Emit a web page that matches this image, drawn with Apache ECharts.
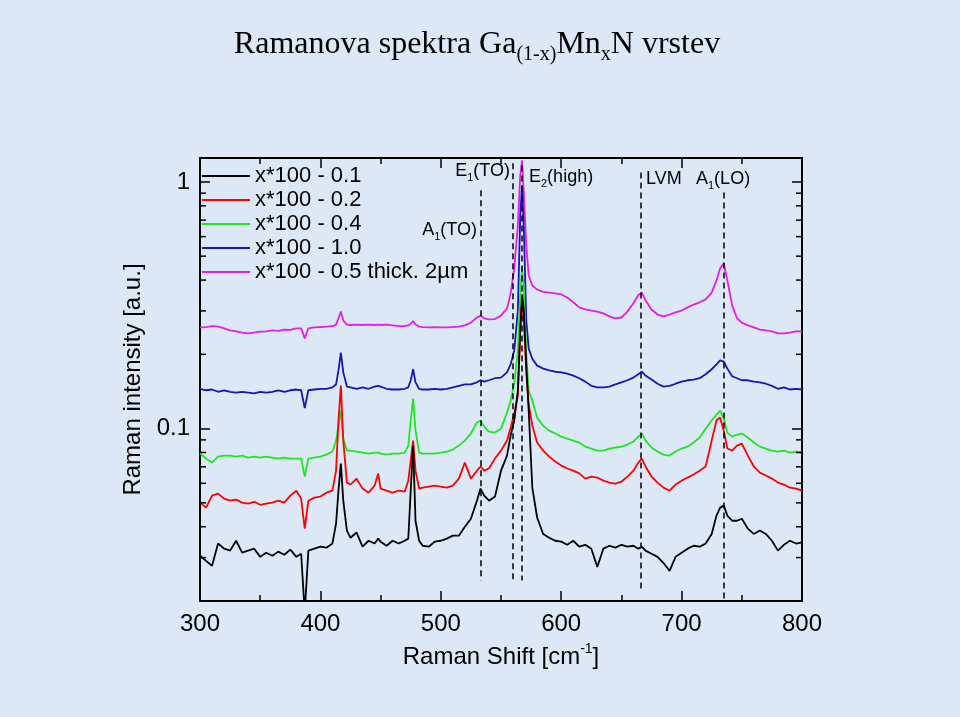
<!DOCTYPE html>
<html><head><meta charset="utf-8">
<script src="https://cdn.jsdelivr.net/npm/echarts@6/dist/echarts.min.js"></script>
<style>html,body{margin:0;padding:0;background:#dce8f6}#c{width:960px;height:717px}</style>
</head><body><div id="c"></div>
<script>
// Raman shift grid [cm^-1]
const shift = [300,305,310,315,320,325,330,335,340,345,350,355,360,365,370,375,380,
384,387,
390,395,400,405,410,
413,415,417,419,422,
425,430,435,440,445,
448,
450,455,460,465,470,
473,475,477,479,482,
485,490,495,500,505,510,515,520,525,530,
533,536,
540,545,550,555,
558,561,564,566,567.5,569,571,573,576,
580,585,590,595,600,605,610,615,620,625,630,635,640,645,650,655,660,
664,667,670,
675,680,685,690,695,700,705,710,715,720,725,
729,732,735,738,742,746,750,
755,760,765,770,775,780,785,790,795,800];

const seriesNames = ['x*100 - 0.1','x*100 - 0.2','x*100 - 0.4','x*100 - 1.0','x*100 - 0.5 thick. 2\u00b5m'];

const black01 = [0.0305,0.0291,0.0278,0.0342,0.0326,0.0320,0.0351,0.0314,0.0320,0.0326,0.0302,0.0314,0.0305,0.0317,0.0308,0.0323,0.0302,
0.0311,0.0180,
0.0320,0.0326,0.0332,0.0329,0.0342,
0.0412,0.0560,0.0721,0.0510,0.0386,
0.0361,0.0379,0.0332,0.0351,0.0342,
0.0358,
0.0348,0.0335,0.0351,0.0342,0.0351,
0.0358,0.0560,0.0853,0.0423,0.0351,
0.0335,0.0332,0.0348,0.0351,0.0358,0.0368,0.0368,0.0400,0.0431,0.0510,
0.0571,0.0535,
0.0510,0.0530,0.0675,0.0777,
0.0937,0.1078,0.1426,0.25,0.35,0.30,0.18,0.1183,0.0576,
0.0436,0.0374,0.0361,0.0351,0.0348,0.0338,0.0351,0.0332,0.0338,0.0326,0.0275,0.0326,0.0335,0.0329,0.0338,0.0332,0.0335,
0.0326,0.0332,0.0320,
0.0311,0.0302,0.0285,0.0265,0.0302,0.0314,0.0326,0.0335,0.0332,0.0342,0.0374,
0.0444,0.0478,0.0487,0.0444,0.0423,0.0423,0.0431,
0.0393,0.0374,0.0386,0.0374,0.0351,0.0320,0.0338,0.0351,0.0342,0.0346];

const red02 = [0.0501,0.0478,0.0535,0.0545,0.0520,0.0510,0.0515,0.0501,0.0496,0.0505,0.0491,0.0496,0.0501,0.0510,0.0501,0.0535,0.0560,
0.0520,0.0393,
0.0510,0.0525,0.0530,0.0550,0.0560,
0.0675,0.1078,0.1494,0.0894,0.0604,
0.0593,0.0627,0.0571,0.0550,0.0587,
0.0658,
0.0571,0.0560,0.0550,0.0560,0.0555,
0.0615,0.0742,0.0894,0.0675,0.0571,
0.0576,0.0582,0.0587,0.0582,0.0576,0.0587,0.0627,0.0728,0.0627,0.0675,
0.0702,0.0675,
0.0689,0.0756,0.0814,0.0894,
0.1009,0.1150,0.1361,0.25,0.33,0.27,0.17,0.1252,0.1030,
0.0878,0.0814,0.0770,0.0735,0.0708,0.0689,0.0675,0.0658,0.0627,0.0639,0.0633,0.0615,0.0604,0.0598,0.0609,0.0639,0.0675,
0.0728,0.0756,0.0702,
0.0639,0.0604,0.0576,0.0560,0.0593,0.0615,0.0633,0.0651,0.0675,0.0702,0.0894,
0.1078,0.1109,0.0981,0.0830,0.0814,0.0853,0.0869,
0.0777,0.0702,0.0663,0.0645,0.0627,0.0604,0.0593,0.0576,0.0571,0.0560];

const green04 = [0.0792,0.0756,0.0728,0.0770,0.0777,0.0777,0.0770,0.0777,0.0763,0.0770,0.0763,0.0770,0.0763,0.0756,0.0763,0.0756,0.0756,
0.0756,0.0639,
0.0756,0.0763,0.0770,0.0784,0.0807,
0.0894,0.1028,0.1183,0.0911,0.0814,
0.0814,0.0807,0.0799,0.0792,0.0799,
0.0799,
0.0792,0.0784,0.0792,0.0792,0.0799,
0.0853,0.1078,0.1324,0.0981,0.0799,
0.0792,0.0792,0.0792,0.0799,0.0807,0.0822,0.0853,0.0894,0.0955,0.1058,
0.1078,0.1019,
0.0972,0.0963,0.1000,0.1161,
0.1299,0.1522,0.2073,0.35,0.45,0.36,0.20,0.1426,0.1299,
0.1108,0.1028,0.0981,0.0955,0.0928,0.0911,0.0894,0.0878,0.0845,0.0830,0.0814,0.0814,0.0830,0.0838,0.0845,0.0861,0.0886,
0.0928,0.0955,0.0894,
0.0838,0.0807,0.0784,0.0777,0.0807,0.0830,0.0845,0.0878,0.0920,0.1000,0.1078,
0.1140,0.1183,0.1099,0.0963,0.0928,0.0946,0.0955,
0.0920,0.0878,0.0845,0.0830,0.0814,0.0807,0.0814,0.0799,0.0807,0.0799];

const blue10 = [0.145,0.143,0.144,0.141,0.143,0.141,0.140,0.141,0.140,0.139,0.141,0.140,0.141,0.143,0.141,0.143,0.144,
0.143,0.121,
0.143,0.144,0.145,0.145,0.147,
0.151,0.172,0.203,0.169,0.148,
0.147,0.145,0.147,0.145,0.148,
0.149,
0.148,0.145,0.144,0.144,0.145,
0.147,0.157,0.174,0.154,0.145,
0.144,0.144,0.145,0.144,0.145,0.147,0.149,0.151,0.151,0.154,
0.157,0.155,
0.157,0.160,0.161,0.169,
0.182,0.207,0.301,0.731,0.968,0.636,0.274,0.211,0.192,
0.180,0.175,0.172,0.170,0.169,0.167,0.164,0.160,0.155,0.149,0.147,0.147,0.148,0.151,0.154,0.157,0.161,
0.166,0.170,0.164,
0.158,0.152,0.148,0.149,0.152,0.155,0.157,0.158,0.160,0.166,0.174,
0.182,0.189,0.187,0.175,0.163,0.160,0.157,
0.157,0.155,0.154,0.152,0.149,0.145,0.147,0.144,0.145,0.144];

const magenta05 = [0.257,0.258,0.260,0.259,0.255,0.250,0.248,0.245,0.243,0.245,0.247,0.248,0.250,0.249,0.252,0.251,0.255,
0.255,0.232,
0.255,0.257,0.258,0.259,0.260,
0.264,0.280,0.298,0.274,0.264,
0.263,0.264,0.263,0.264,0.263,
0.264,
0.263,0.264,0.262,0.260,0.260,
0.262,0.266,0.273,0.264,0.259,
0.258,0.257,0.258,0.257,0.257,0.258,0.259,0.262,0.269,0.282,
0.287,0.280,
0.277,0.278,0.287,0.307,
0.353,0.446,0.666,1.063,1.222,0.882,0.553,0.418,0.380,
0.366,0.358,0.356,0.353,0.350,0.340,0.325,0.310,0.304,0.301,0.298,0.293,0.285,0.280,0.282,0.298,0.322,
0.347,0.356,0.331,
0.304,0.290,0.285,0.290,0.296,0.301,0.310,0.318,0.325,0.334,0.356,
0.399,0.446,0.467,0.399,0.316,0.280,0.269,
0.262,0.257,0.252,0.250,0.248,0.243,0.243,0.245,0.248,0.248];

// phonon mode positions [cm^-1]
const modeShifts = [533, 560, 567, 666, 735];
const xTickValues = [300, 400, 500, 600, 700, 800];
const yTickLabels = ['0.1', '1'];
const yMinorTicks = [0.03,0.04,0.05,0.06,0.07,0.08,0.09,0.2,0.3,0.4,0.5,0.6,0.7,0.8,0.9];

const colors = ['#000000', '#ff0000', '#20e620', '#1515b8', '#e41ee4'];
const allData = [black01, red02, green04, blue10, magenta05];

const FONT = 'Liberation Sans';
const chart = echarts.init(document.getElementById('c'), null, {renderer: 'canvas'});

const drawOrder = [4, 3, 2, 1, 0];
const lineSeries = drawOrder.map(i => ({
  type: 'line',
  name: seriesNames[i],
  data: shift.map((x, k) => [x, allData[i][k]]),
  showSymbol: false,
  symbol: 'none',
  animation: false,
  lineStyle: {color: colors[i], width: 1.8},
  itemStyle: {color: colors[i]},
  z: 3
}));

const modeTop = [0.924, 1.19, 1.166, 1.093, 0.906];
const modeBottom = [0.0242, 0.0242, 0.0242, 0.022, 0.0204];
lineSeries.push({
  type: 'line', name: 'modes', data: [], silent: true, animation: false,
  markLine: {
    symbol: 'none', silent: true, animation: false,
    label: {show: false},
    lineStyle: {type: [6, 4], color: '#000', width: 1.5},
    emphasis: {disabled: true},
    data: modeShifts.map((x, i) => [{coord: [x, modeTop[i]]}, {coord: [x, modeBottom[i]]}])
  },
  z: 4
});

lineSeries.push({
  type: 'custom', name: 'minorY', silent: true, animation: false, z: 6,
  data: yMinorTicks.map(v => [300, v]),
  renderItem: (params, api) => {
    const v = api.value(1);
    const l = api.coord([300, v]);
    const r = api.coord([800, v]);
    return {type: 'group', children: [
      {type: 'line', shape: {x1: l[0], y1: l[1], x2: l[0] + 6, y2: l[1]}, style: {stroke: '#000', lineWidth: 1.5}},
      {type: 'line', shape: {x1: r[0] - 6, y1: r[1], x2: r[0], y2: r[1]}, style: {stroke: '#000', lineWidth: 1.5}}
    ]};
  }
});

const axisCommon = {
  axisLine: {show: true, onZero: false, lineStyle: {color: '#000', width: 2}},
  axisTick: {show: true, inside: true, length: 10, lineStyle: {color: '#000', width: 1.5}},
  splitLine: {show: false},
};

function lab(main, sub, rest, x, y, align) {
  return {
    type: 'text', x: x, y: y, z: 20, silent: true,
    style: {
      text: '{m|' + main + '}{s|' + sub + '}{m|' + rest + '}',
      align: align, verticalAlign: 'middle',
      rich: {
        m: {fontSize: 18, lineHeight: 24, fontFamily: FONT, fill: '#000', verticalAlign: 'middle'},
        s: {fontSize: 11, lineHeight: 11, fontFamily: FONT, fill: '#000', verticalAlign: 'bottom'}
      }
    }
  };
}

const option = {
  backgroundColor: '#dce8f6',
  animation: false,
  textStyle: {fontFamily: FONT},
  grid: {left: 200, right: 158, top: 158, bottom: 116, containLabel: false},
  legend: {
    data: seriesNames, orient: 'vertical', left: 202, top: 165, padding: 0,
    itemWidth: 48, itemHeight: 2, itemGap: 2, icon: 'rect', selectedMode: false,
    textStyle: {fontSize: 22, color: '#000', fontFamily: FONT, lineHeight: 20}
  },
  xAxis: [
    Object.assign({}, axisCommon, {
      type: 'value', min: 300, max: 800, interval: 100, position: 'bottom',
      minorTick: {show: true, splitNumber: 2, length: 6, lineStyle: {color: '#000', width: 1.5}},
      axisLabel: {fontSize: 24, color: '#000', margin: 11, fontFamily: FONT,
        formatter: v => xTickValues.indexOf(v) >= 0 ? String(v) : ''},
      name: '{m|Raman Shift [cm}{s|-1}{m|]}', nameLocation: 'middle', nameGap: 41,
      nameTextStyle: {rich: {
        m: {fontSize: 24, lineHeight: 30, fontFamily: FONT, color: '#000', verticalAlign: 'middle'},
        s: {fontSize: 14, lineHeight: 14, fontFamily: FONT, color: '#000', verticalAlign: 'top'}
      }}
    }),
    Object.assign({}, axisCommon, {
      type: 'value', min: 300, max: 800, interval: 100, position: 'top',
      minorTick: {show: true, splitNumber: 2, length: 6, lineStyle: {color: '#000', width: 1.5}},
      axisLabel: {show: false}
    })
  ],
  yAxis: [
    Object.assign({}, axisCommon, {
      type: 'log', logBase: 10, min: 0.02, max: 1.25, position: 'left',
      axisLabel: {fontSize: 24, color: '#000', margin: 10, fontFamily: FONT,
        showMinLabel: false, showMaxLabel: false,
        formatter: v => {
          const s = String(+(+v).toPrecision(3));
          return yTickLabels.indexOf(s) >= 0 ? s : '';
        }},
      name: 'Raman intensity [a.u.]', nameLocation: 'middle', nameGap: 46,
      nameTextStyle: {fontSize: 24, color: '#000', fontFamily: FONT}
    }),
    Object.assign({}, axisCommon, {
      type: 'log', logBase: 10, min: 0.02, max: 1.25, position: 'right',
      axisLabel: {show: false}
    })
  ],
  graphic: [
    {
      type: 'text', x: 477, y: 45, silent: true,
      style: {
        text: '{m|Ramanova spektra Ga}{s|(1-x)}{m|Mn}{s|x}{m|N vrstev}',
        align: 'center', verticalAlign: 'middle',
        rich: {
          m: {fontSize: 32, lineHeight: 40, fontFamily: 'Liberation Serif', fill: '#000', verticalAlign: 'middle'},
          s: {fontSize: 20, lineHeight: 20, fontFamily: 'Liberation Serif', fill: '#000', verticalAlign: 'bottom'}
        }
      }
    },
    lab('E', '1', '(TO)', 510, 171, 'right'),
    lab('A', '1', '(TO)', 477, 230, 'right'),
    lab('E', '2', '(high)', 529, 177, 'left'),
    lab('LVM', '', '', 646, 179, 'left'),
    lab('A', '1', '(LO)', 696, 179, 'left')
  ],
  series: lineSeries
};
chart.setOption(option);
</script>
</body></html>
